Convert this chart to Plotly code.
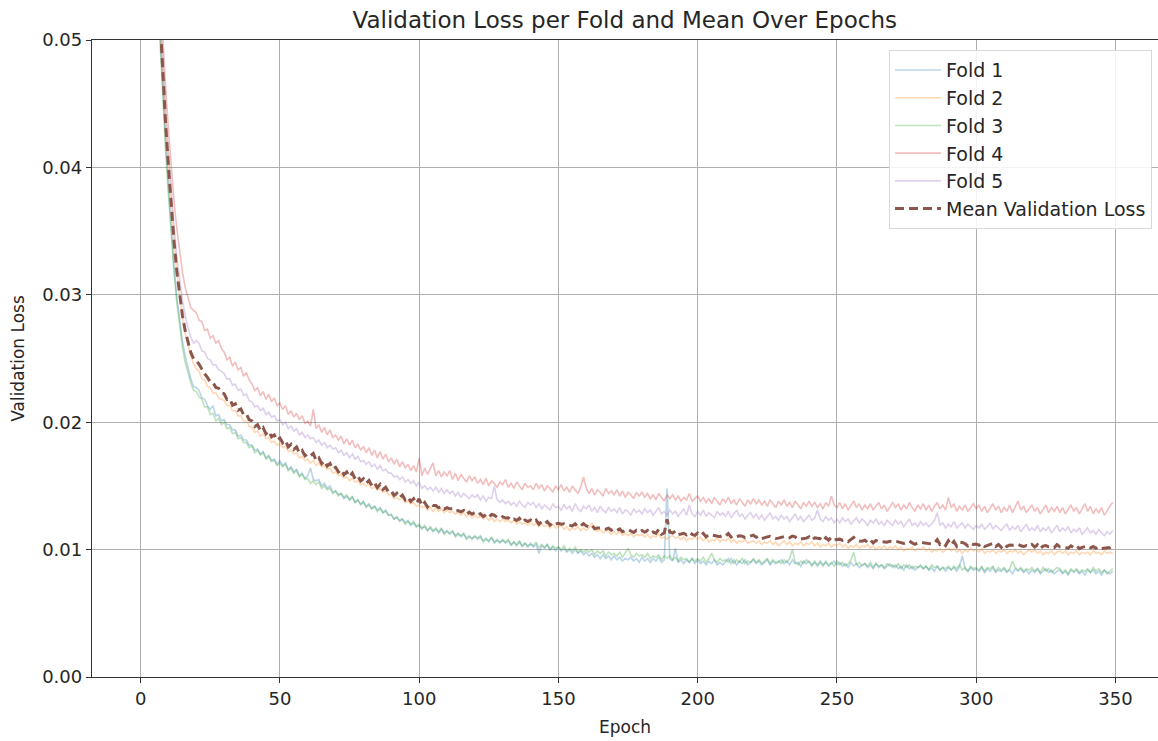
import plotly.graph_objects as go
import numpy as np

EPOCHS = list(range(350))

FOLD_1 = [
    0.3120, 0.1650, 0.1090, 0.0835, 0.0700, 0.0618, 0.0560, 0.0505, 0.0460, 0.0420,
    0.0385, 0.0352, 0.0322, 0.0298, 0.0279, 0.0264, 0.0252, 0.0242, 0.0234, 0.0228,
    0.0227, 0.0225, 0.0219, 0.0218, 0.0213, 0.0210, 0.0213, 0.0205, 0.0206, 0.0201,
    0.0202, 0.0198, 0.0198, 0.0194, 0.0194, 0.0189, 0.0190, 0.0186, 0.0186, 0.0182,
    0.0182, 0.0178, 0.0179, 0.0175, 0.0177, 0.0172, 0.0174, 0.0170, 0.0171, 0.0167,
    0.0170, 0.0166, 0.0168, 0.0163, 0.0165, 0.0161, 0.0163, 0.0158, 0.0160, 0.0156,
    0.0158, 0.0164, 0.0155, 0.0154, 0.0155, 0.0150, 0.0152, 0.0148, 0.0150, 0.0145,
    0.0146, 0.0143, 0.0144, 0.0140, 0.0142, 0.0139, 0.0141, 0.0137, 0.0139, 0.0135,
    0.0137, 0.0134, 0.0136, 0.0132, 0.0134, 0.0131, 0.0133, 0.0129, 0.0131, 0.0127,
    0.0127, 0.0124, 0.0126, 0.0122, 0.0124, 0.0121, 0.0123, 0.0119, 0.0121, 0.0118,
    0.0119, 0.0117, 0.0118, 0.0115, 0.0117, 0.0114, 0.0117, 0.0113, 0.0116, 0.0113,
    0.0115, 0.0112, 0.0114, 0.0111, 0.0113, 0.0110, 0.0112, 0.0109, 0.0111, 0.0108,
    0.0111, 0.0108, 0.0110, 0.0107, 0.0109, 0.0106, 0.0109, 0.0106, 0.0108, 0.0105,
    0.0108, 0.0105, 0.0107, 0.0104, 0.0106, 0.0103, 0.0106, 0.0103, 0.0105, 0.0102,
    0.0105, 0.0102, 0.0104, 0.0097, 0.0103, 0.0101, 0.0104, 0.0100, 0.0102, 0.0099,
    0.0102, 0.0099, 0.0101, 0.0098, 0.0100, 0.0097, 0.0100, 0.0097, 0.0099, 0.0096,
    0.0098, 0.0095, 0.0097, 0.0094, 0.0096, 0.0093, 0.0096, 0.0093, 0.0095, 0.0092,
    0.0095, 0.0092, 0.0094, 0.0091, 0.0093, 0.0092, 0.0094, 0.0091, 0.0093, 0.0090,
    0.0094, 0.0091, 0.0093, 0.0090, 0.0093, 0.0091, 0.0094, 0.0090, 0.0092, 0.0148,
    0.0093, 0.0091, 0.0101, 0.0090, 0.0092, 0.0089, 0.0092, 0.0090, 0.0093, 0.0089,
    0.0092, 0.0089, 0.0091, 0.0088, 0.0091, 0.0089, 0.0092, 0.0088, 0.0090, 0.0088,
    0.0091, 0.0093, 0.0089, 0.0092, 0.0088, 0.0091, 0.0089, 0.0092, 0.0088, 0.0090,
    0.0092, 0.0089, 0.0091, 0.0088, 0.0090, 0.0092, 0.0088, 0.0091, 0.0089, 0.0090,
    0.0092, 0.0089, 0.0091, 0.0088, 0.0092, 0.0089, 0.0090, 0.0087, 0.0091, 0.0089,
    0.0091, 0.0088, 0.0090, 0.0087, 0.0091, 0.0088, 0.0090, 0.0087, 0.0089, 0.0091,
    0.0088, 0.0090, 0.0087, 0.0089, 0.0086, 0.0090, 0.0087, 0.0089, 0.0086, 0.0088,
    0.0089, 0.0086, 0.0088, 0.0085, 0.0089, 0.0086, 0.0088, 0.0085, 0.0087, 0.0089,
    0.0086, 0.0088, 0.0085, 0.0087, 0.0084, 0.0088, 0.0085, 0.0087, 0.0084, 0.0086,
    0.0087, 0.0085, 0.0087, 0.0084, 0.0086, 0.0083, 0.0087, 0.0084, 0.0086, 0.0083,
    0.0086, 0.0084, 0.0086, 0.0083, 0.0087, 0.0095, 0.0085, 0.0083, 0.0086, 0.0084,
    0.0085, 0.0083, 0.0086, 0.0082, 0.0085, 0.0083, 0.0086, 0.0082, 0.0084, 0.0083,
    0.0085, 0.0082, 0.0084, 0.0081, 0.0085, 0.0083, 0.0085, 0.0082, 0.0084, 0.0081,
    0.0084, 0.0082, 0.0085, 0.0081, 0.0083, 0.0085, 0.0082, 0.0084, 0.0081, 0.0083,
    0.0084, 0.0081, 0.0083, 0.0080, 0.0084, 0.0082, 0.0084, 0.0081, 0.0083, 0.0080,
    0.0084, 0.0082, 0.0084, 0.0081, 0.0083, 0.0080, 0.0084, 0.0082, 0.0081, 0.0083,
]

FOLD_2 = [
    0.3050, 0.1620, 0.1080, 0.0830, 0.0702, 0.0622, 0.0566, 0.0512, 0.0468, 0.0432,
    0.0400, 0.0370, 0.0342, 0.0318, 0.0299, 0.0283, 0.0270, 0.0260, 0.0252, 0.0246,
    0.0242, 0.0240, 0.0234, 0.0233, 0.0228, 0.0227, 0.0223, 0.0223, 0.0219, 0.0218,
    0.0217, 0.0213, 0.0213, 0.0209, 0.0209, 0.0205, 0.0205, 0.0201, 0.0201, 0.0197,
    0.0196, 0.0192, 0.0193, 0.0189, 0.0191, 0.0187, 0.0188, 0.0184, 0.0185, 0.0182,
    0.0183, 0.0180, 0.0181, 0.0177, 0.0178, 0.0175, 0.0176, 0.0172, 0.0173, 0.0170,
    0.0171, 0.0168, 0.0170, 0.0166, 0.0168, 0.0165, 0.0166, 0.0163, 0.0164, 0.0160,
    0.0161, 0.0158, 0.0159, 0.0156, 0.0157, 0.0154, 0.0156, 0.0153, 0.0154, 0.0151,
    0.0152, 0.0150, 0.0151, 0.0148, 0.0149, 0.0147, 0.0148, 0.0145, 0.0146, 0.0143,
    0.0143, 0.0140, 0.0141, 0.0139, 0.0140, 0.0137, 0.0138, 0.0136, 0.0137, 0.0134,
    0.0135, 0.0133, 0.0134, 0.0131, 0.0133, 0.0130, 0.0133, 0.0130, 0.0132, 0.0129,
    0.0131, 0.0129, 0.0130, 0.0128, 0.0129, 0.0127, 0.0129, 0.0126, 0.0128, 0.0125,
    0.0127, 0.0125, 0.0126, 0.0124, 0.0126, 0.0123, 0.0125, 0.0122, 0.0124, 0.0122,
    0.0124, 0.0122, 0.0123, 0.0121, 0.0123, 0.0120, 0.0122, 0.0120, 0.0121, 0.0119,
    0.0122, 0.0119, 0.0121, 0.0118, 0.0120, 0.0118, 0.0119, 0.0117, 0.0120, 0.0117,
    0.0118, 0.0119, 0.0116, 0.0118, 0.0115, 0.0117, 0.0116, 0.0118, 0.0115, 0.0117,
    0.0115, 0.0117, 0.0121, 0.0116, 0.0114, 0.0116, 0.0113, 0.0115, 0.0114, 0.0112,
    0.0114, 0.0112, 0.0114, 0.0111, 0.0113, 0.0111, 0.0113, 0.0110, 0.0112, 0.0111,
    0.0112, 0.0110, 0.0112, 0.0109, 0.0111, 0.0110, 0.0112, 0.0109, 0.0110, 0.0108,
    0.0110, 0.0111, 0.0109, 0.0110, 0.0108, 0.0110, 0.0107, 0.0109, 0.0108, 0.0110,
    0.0108, 0.0110, 0.0107, 0.0109, 0.0106, 0.0108, 0.0107, 0.0109, 0.0106, 0.0108,
    0.0107, 0.0109, 0.0106, 0.0108, 0.0105, 0.0107, 0.0106, 0.0108, 0.0105, 0.0106,
    0.0107, 0.0105, 0.0107, 0.0104, 0.0106, 0.0105, 0.0107, 0.0104, 0.0106, 0.0103,
    0.0105, 0.0107, 0.0104, 0.0106, 0.0103, 0.0105, 0.0104, 0.0106, 0.0103, 0.0105,
    0.0104, 0.0106, 0.0103, 0.0105, 0.0102, 0.0104, 0.0103, 0.0105, 0.0102, 0.0104,
    0.0103, 0.0105, 0.0102, 0.0104, 0.0101, 0.0103, 0.0102, 0.0104, 0.0101, 0.0103,
    0.0102, 0.0104, 0.0101, 0.0103, 0.0100, 0.0102, 0.0101, 0.0103, 0.0100, 0.0102,
    0.0101, 0.0103, 0.0100, 0.0102, 0.0099, 0.0101, 0.0100, 0.0102, 0.0099, 0.0101,
    0.0100, 0.0102, 0.0099, 0.0101, 0.0098, 0.0100, 0.0099, 0.0101, 0.0098, 0.0100,
    0.0101, 0.0099, 0.0101, 0.0098, 0.0100, 0.0097, 0.0100, 0.0098, 0.0101, 0.0099,
    0.0100, 0.0098, 0.0101, 0.0097, 0.0099, 0.0098, 0.0100, 0.0097, 0.0099, 0.0098,
    0.0100, 0.0097, 0.0099, 0.0098, 0.0100, 0.0097, 0.0099, 0.0096, 0.0098, 0.0100,
    0.0098, 0.0100, 0.0097, 0.0099, 0.0096, 0.0098, 0.0097, 0.0099, 0.0096, 0.0098,
    0.0099, 0.0097, 0.0099, 0.0096, 0.0098, 0.0097, 0.0099, 0.0096, 0.0098, 0.0097,
    0.0098, 0.0096, 0.0099, 0.0097, 0.0098, 0.0096, 0.0099, 0.0097, 0.0098, 0.0097,
]

FOLD_3 = [
    0.3180, 0.1680, 0.1100, 0.0838, 0.0698, 0.0612, 0.0552, 0.0498, 0.0452, 0.0412,
    0.0378, 0.0346, 0.0318, 0.0294, 0.0274, 0.0259, 0.0247, 0.0238, 0.0231, 0.0225,
    0.0224, 0.0220, 0.0218, 0.0212, 0.0212, 0.0206, 0.0207, 0.0201, 0.0203, 0.0198,
    0.0200, 0.0195, 0.0196, 0.0191, 0.0192, 0.0187, 0.0188, 0.0184, 0.0184, 0.0180,
    0.0181, 0.0176, 0.0178, 0.0174, 0.0176, 0.0171, 0.0173, 0.0169, 0.0170, 0.0166,
    0.0168, 0.0165, 0.0167, 0.0162, 0.0164, 0.0160, 0.0162, 0.0157, 0.0159, 0.0155,
    0.0156, 0.0152, 0.0154, 0.0151, 0.0153, 0.0148, 0.0150, 0.0147, 0.0148, 0.0144,
    0.0146, 0.0142, 0.0144, 0.0141, 0.0143, 0.0139, 0.0142, 0.0137, 0.0139, 0.0136,
    0.0138, 0.0133, 0.0135, 0.0132, 0.0134, 0.0130, 0.0132, 0.0129, 0.0130, 0.0127,
    0.0128, 0.0124, 0.0125, 0.0123, 0.0124, 0.0120, 0.0122, 0.0120, 0.0122, 0.0118,
    0.0120, 0.0116, 0.0119, 0.0115, 0.0118, 0.0115, 0.0116, 0.0114, 0.0117, 0.0112,
    0.0114, 0.0113, 0.0115, 0.0110, 0.0112, 0.0111, 0.0113, 0.0108, 0.0110, 0.0109,
    0.0110, 0.0109, 0.0111, 0.0106, 0.0108, 0.0107, 0.0110, 0.0105, 0.0107, 0.0106,
    0.0107, 0.0106, 0.0108, 0.0103, 0.0106, 0.0104, 0.0107, 0.0102, 0.0105, 0.0103,
    0.0104, 0.0103, 0.0106, 0.0101, 0.0104, 0.0102, 0.0104, 0.0100, 0.0103, 0.0101,
    0.0102, 0.0100, 0.0103, 0.0099, 0.0101, 0.0099, 0.0102, 0.0098, 0.0100, 0.0098,
    0.0100, 0.0098, 0.0100, 0.0096, 0.0099, 0.0097, 0.0099, 0.0095, 0.0098, 0.0096,
    0.0097, 0.0095, 0.0098, 0.0094, 0.0097, 0.0101, 0.0096, 0.0094, 0.0097, 0.0095,
    0.0096, 0.0094, 0.0097, 0.0093, 0.0095, 0.0094, 0.0096, 0.0092, 0.0095, 0.0093,
    0.0095, 0.0092, 0.0094, 0.0091, 0.0094, 0.0092, 0.0093, 0.0090, 0.0093, 0.0091,
    0.0093, 0.0091, 0.0094, 0.0090, 0.0093, 0.0097, 0.0092, 0.0090, 0.0093, 0.0091,
    0.0092, 0.0090, 0.0093, 0.0089, 0.0092, 0.0090, 0.0093, 0.0089, 0.0091, 0.0090,
    0.0093, 0.0090, 0.0092, 0.0089, 0.0091, 0.0093, 0.0089, 0.0092, 0.0090, 0.0091,
    0.0089, 0.0092, 0.0090, 0.0093, 0.0100, 0.0090, 0.0088, 0.0091, 0.0089, 0.0092,
    0.0090, 0.0087, 0.0091, 0.0088, 0.0090, 0.0087, 0.0091, 0.0088, 0.0090, 0.0087,
    0.0091, 0.0088, 0.0090, 0.0087, 0.0089, 0.0092, 0.0098, 0.0088, 0.0090, 0.0087,
    0.0089, 0.0087, 0.0090, 0.0086, 0.0089, 0.0087, 0.0088, 0.0086, 0.0089, 0.0087,
    0.0088, 0.0086, 0.0089, 0.0085, 0.0088, 0.0086, 0.0088, 0.0085, 0.0087, 0.0086,
    0.0088, 0.0085, 0.0087, 0.0084, 0.0088, 0.0086, 0.0087, 0.0084, 0.0086, 0.0085,
    0.0087, 0.0084, 0.0087, 0.0085, 0.0088, 0.0084, 0.0086, 0.0083, 0.0087, 0.0085,
    0.0086, 0.0084, 0.0087, 0.0083, 0.0086, 0.0085, 0.0087, 0.0083, 0.0086, 0.0084,
    0.0086, 0.0083, 0.0085, 0.0091, 0.0086, 0.0084, 0.0086, 0.0083, 0.0085, 0.0084,
    0.0086, 0.0083, 0.0085, 0.0082, 0.0086, 0.0083, 0.0085, 0.0082, 0.0084, 0.0086,
    0.0085, 0.0082, 0.0084, 0.0081, 0.0085, 0.0083, 0.0085, 0.0082, 0.0084, 0.0083,
    0.0085, 0.0082, 0.0086, 0.0083, 0.0085, 0.0082, 0.0084, 0.0081, 0.0083, 0.0085,
]

FOLD_4 = [
    0.2980, 0.1600, 0.1090, 0.0850, 0.0725, 0.0648, 0.0592, 0.0540, 0.0498, 0.0462,
    0.0430, 0.0400, 0.0373, 0.0352, 0.0334, 0.0318, 0.0306, 0.0297, 0.0290, 0.0288,
    0.0286, 0.0280, 0.0279, 0.0272, 0.0273, 0.0266, 0.0268, 0.0262, 0.0264, 0.0258,
    0.0255, 0.0249, 0.0251, 0.0244, 0.0247, 0.0241, 0.0243, 0.0236, 0.0239, 0.0233,
    0.0230, 0.0225, 0.0227, 0.0221, 0.0224, 0.0218, 0.0222, 0.0216, 0.0219, 0.0213,
    0.0215, 0.0210, 0.0213, 0.0206, 0.0209, 0.0204, 0.0207, 0.0202, 0.0205, 0.0199,
    0.0201, 0.0197, 0.0210, 0.0195, 0.0198, 0.0192, 0.0196, 0.0190, 0.0194, 0.0188,
    0.0190, 0.0186, 0.0189, 0.0183, 0.0187, 0.0182, 0.0186, 0.0180, 0.0183, 0.0178,
    0.0181, 0.0176, 0.0180, 0.0174, 0.0178, 0.0172, 0.0177, 0.0171, 0.0175, 0.0169,
    0.0172, 0.0167, 0.0171, 0.0165, 0.0169, 0.0164, 0.0167, 0.0162, 0.0166, 0.0161,
    0.0172, 0.0158, 0.0164, 0.0159, 0.0163, 0.0168, 0.0158, 0.0162, 0.0157, 0.0161,
    0.0158, 0.0162, 0.0155, 0.0160, 0.0154, 0.0159, 0.0156, 0.0153, 0.0158, 0.0154,
    0.0157, 0.0152, 0.0155, 0.0151, 0.0156, 0.0150, 0.0154, 0.0152, 0.0149, 0.0153,
    0.0151, 0.0155, 0.0149, 0.0152, 0.0148, 0.0153, 0.0150, 0.0147, 0.0152, 0.0149,
    0.0150, 0.0147, 0.0152, 0.0148, 0.0151, 0.0146, 0.0150, 0.0148, 0.0145, 0.0150,
    0.0147, 0.0151, 0.0146, 0.0149, 0.0145, 0.0150, 0.0147, 0.0144, 0.0149, 0.0157,
    0.0148, 0.0144, 0.0148, 0.0143, 0.0147, 0.0145, 0.0142, 0.0148, 0.0144, 0.0146,
    0.0143, 0.0147, 0.0142, 0.0146, 0.0141, 0.0145, 0.0143, 0.0140, 0.0145, 0.0142,
    0.0145, 0.0141, 0.0144, 0.0140, 0.0143, 0.0139, 0.0144, 0.0141, 0.0138, 0.0143,
    0.0140, 0.0143, 0.0139, 0.0142, 0.0138, 0.0141, 0.0139, 0.0144, 0.0138, 0.0140,
    0.0142, 0.0138, 0.0141, 0.0137, 0.0140, 0.0136, 0.0141, 0.0138, 0.0135, 0.0140,
    0.0137, 0.0141, 0.0136, 0.0139, 0.0135, 0.0140, 0.0137, 0.0134, 0.0139, 0.0136,
    0.0140, 0.0136, 0.0139, 0.0135, 0.0138, 0.0134, 0.0139, 0.0136, 0.0133, 0.0138,
    0.0135, 0.0139, 0.0134, 0.0137, 0.0133, 0.0138, 0.0135, 0.0132, 0.0137, 0.0134,
    0.0138, 0.0134, 0.0137, 0.0133, 0.0136, 0.0132, 0.0137, 0.0134, 0.0142, 0.0135,
    0.0133, 0.0137, 0.0132, 0.0136, 0.0131, 0.0135, 0.0138, 0.0133, 0.0136, 0.0131,
    0.0135, 0.0132, 0.0136, 0.0131, 0.0134, 0.0137, 0.0132, 0.0135, 0.0130, 0.0134,
    0.0137, 0.0133, 0.0136, 0.0131, 0.0135, 0.0132, 0.0137, 0.0133, 0.0130, 0.0135,
    0.0132, 0.0136, 0.0131, 0.0135, 0.0130, 0.0134, 0.0137, 0.0132, 0.0135, 0.0131,
    0.0141, 0.0133, 0.0136, 0.0130, 0.0134, 0.0131, 0.0135, 0.0130, 0.0133, 0.0136,
    0.0132, 0.0135, 0.0130, 0.0134, 0.0129, 0.0133, 0.0136, 0.0131, 0.0134, 0.0129,
    0.0133, 0.0130, 0.0135, 0.0129, 0.0133, 0.0138, 0.0131, 0.0134, 0.0129, 0.0132,
    0.0135, 0.0130, 0.0133, 0.0128, 0.0132, 0.0135, 0.0129, 0.0133, 0.0130, 0.0134,
    0.0129, 0.0133, 0.0128, 0.0131, 0.0135, 0.0130, 0.0133, 0.0128, 0.0132, 0.0136,
    0.0130, 0.0134, 0.0128, 0.0132, 0.0129, 0.0133, 0.0127, 0.0131, 0.0134, 0.0137,
]

FOLD_5 = [
    0.3010, 0.1610, 0.1085, 0.0840, 0.0712, 0.0632, 0.0577, 0.0524, 0.0480, 0.0443,
    0.0411, 0.0381, 0.0354, 0.0330, 0.0311, 0.0296, 0.0284, 0.0274, 0.0267, 0.0262,
    0.0264, 0.0262, 0.0256, 0.0255, 0.0250, 0.0249, 0.0245, 0.0245, 0.0241, 0.0240,
    0.0238, 0.0234, 0.0234, 0.0229, 0.0230, 0.0225, 0.0226, 0.0221, 0.0222, 0.0217,
    0.0216, 0.0212, 0.0213, 0.0209, 0.0211, 0.0206, 0.0208, 0.0204, 0.0205, 0.0201,
    0.0202, 0.0198, 0.0200, 0.0195, 0.0197, 0.0193, 0.0195, 0.0190, 0.0192, 0.0188,
    0.0190, 0.0187, 0.0188, 0.0184, 0.0186, 0.0182, 0.0184, 0.0180, 0.0182, 0.0179,
    0.0180, 0.0176, 0.0178, 0.0174, 0.0176, 0.0172, 0.0175, 0.0171, 0.0173, 0.0169,
    0.0170, 0.0167, 0.0169, 0.0165, 0.0167, 0.0163, 0.0166, 0.0162, 0.0163, 0.0160,
    0.0160, 0.0157, 0.0158, 0.0155, 0.0157, 0.0153, 0.0155, 0.0152, 0.0154, 0.0150,
    0.0153, 0.0148, 0.0150, 0.0147, 0.0149, 0.0146, 0.0149, 0.0145, 0.0148, 0.0144,
    0.0147, 0.0144, 0.0146, 0.0142, 0.0145, 0.0141, 0.0144, 0.0142, 0.0140, 0.0143,
    0.0141, 0.0143, 0.0139, 0.0142, 0.0138, 0.0141, 0.0140, 0.0150, 0.0139, 0.0137,
    0.0139, 0.0136, 0.0138, 0.0135, 0.0137, 0.0134, 0.0138, 0.0135, 0.0133, 0.0137,
    0.0135, 0.0137, 0.0133, 0.0136, 0.0132, 0.0135, 0.0133, 0.0131, 0.0136, 0.0133,
    0.0134, 0.0131, 0.0135, 0.0132, 0.0134, 0.0130, 0.0136, 0.0132, 0.0130, 0.0134,
    0.0132, 0.0135, 0.0130, 0.0133, 0.0129, 0.0134, 0.0131, 0.0129, 0.0133, 0.0130,
    0.0132, 0.0129, 0.0133, 0.0128, 0.0131, 0.0130, 0.0127, 0.0132, 0.0129, 0.0131,
    0.0128, 0.0132, 0.0129, 0.0131, 0.0127, 0.0130, 0.0133, 0.0128, 0.0130, 0.0127,
    0.0131, 0.0128, 0.0130, 0.0126, 0.0129, 0.0132, 0.0127, 0.0135, 0.0128, 0.0126,
    0.0130, 0.0127, 0.0131, 0.0126, 0.0129, 0.0127, 0.0125, 0.0130, 0.0127, 0.0129,
    0.0126, 0.0130, 0.0125, 0.0128, 0.0131, 0.0126, 0.0128, 0.0124, 0.0127, 0.0129,
    0.0125, 0.0128, 0.0124, 0.0127, 0.0123, 0.0126, 0.0129, 0.0124, 0.0126, 0.0123,
    0.0127, 0.0124, 0.0126, 0.0122, 0.0125, 0.0128, 0.0123, 0.0126, 0.0122, 0.0125,
    0.0127, 0.0123, 0.0125, 0.0131, 0.0124, 0.0122, 0.0126, 0.0123, 0.0125, 0.0121,
    0.0124, 0.0121, 0.0125, 0.0122, 0.0124, 0.0120, 0.0123, 0.0125, 0.0121, 0.0124,
    0.0122, 0.0119, 0.0123, 0.0121, 0.0124, 0.0120, 0.0122, 0.0119, 0.0123, 0.0121,
    0.0119, 0.0123, 0.0120, 0.0122, 0.0118, 0.0121, 0.0124, 0.0119, 0.0121, 0.0118,
    0.0122, 0.0119, 0.0121, 0.0118, 0.0120, 0.0123, 0.0129, 0.0119, 0.0121, 0.0117,
    0.0120, 0.0118, 0.0122, 0.0117, 0.0119, 0.0121, 0.0117, 0.0120, 0.0118, 0.0116,
    0.0119, 0.0117, 0.0120, 0.0116, 0.0118, 0.0121, 0.0116, 0.0119, 0.0117, 0.0115,
    0.0118, 0.0120, 0.0115, 0.0118, 0.0116, 0.0119, 0.0114, 0.0117, 0.0120, 0.0115,
    0.0117, 0.0115, 0.0119, 0.0114, 0.0117, 0.0115, 0.0118, 0.0113, 0.0116, 0.0119,
    0.0114, 0.0117, 0.0115, 0.0118, 0.0113, 0.0116, 0.0114, 0.0117, 0.0112, 0.0115,
    0.0117, 0.0113, 0.0115, 0.0112, 0.0116, 0.0113, 0.0111, 0.0114, 0.0112, 0.0115,
]

FOLD_NAMES = ["Fold 1", "Fold 2", "Fold 3", "Fold 4", "Fold 5"]
FOLD_COLORS = ["#1f77b4", "#ff7f0e", "#2ca02c", "#d62728", "#9467bd"]
MEAN_NAME = "Mean Validation Loss"
MEAN_COLOR = "#8c564b"

X_TICKS = [0, 50, 100, 150, 200, 250, 300, 350]
Y_TICKS = [0.00, 0.01, 0.02, 0.03, 0.04, 0.05]

folds = [FOLD_1, FOLD_2, FOLD_3, FOLD_4, FOLD_5]
mean_loss = np.mean(np.array(folds), axis=0)

FONT = "DejaVu Sans"
TXT = "#262626"

fig = go.Figure()
for name, color, vals in zip(FOLD_NAMES, FOLD_COLORS, folds):
    fig.add_trace(go.Scatter(
        x=EPOCHS, y=vals, mode="lines", name=name,
        line=dict(color=color, width=1.6), opacity=0.3,
    ))
fig.add_trace(go.Scatter(
    x=EPOCHS, y=mean_loss, mode="lines", name=MEAN_NAME,
    line=dict(color=MEAN_COLOR, width=3, dash="9px,5px"),
))

fig.update_layout(
    width=1158, height=741,
    margin=dict(l=92, r=0, t=40, b=64),
    paper_bgcolor="white", plot_bgcolor="white",
    font=dict(family=FONT, size=18, color=TXT),
    title=dict(text="Validation Loss per Fold and Mean Over Epochs",
               x=0.5395, xanchor="center", y=0.973, yanchor="middle",
               font=dict(family=FONT, size=23, color=TXT)),
    showlegend=True,
    legend=dict(x=0.9944, xanchor="right", y=0.984, yanchor="top",
                bgcolor="rgba(255,255,255,0.85)", bordercolor="#d9d9d9",
                borderwidth=1, font=dict(family=FONT, size=19, color=TXT),
                itemwidth=46, tracegroupgap=0),
)
fig.update_xaxes(
    range=[-17.45, 365.26], tickvals=X_TICKS,
    ticktext=[str(v) for v in X_TICKS],
    showgrid=True, gridcolor="#b0b0b0", gridwidth=1,
    zeroline=False, showline=True, linecolor="#333333", linewidth=1.3, mirror=True,
    ticks="outside", ticklen=5, tickcolor="#333333", tickwidth=1.2,
    tickfont=dict(family=FONT, size=18, color=TXT),
    title=dict(text="Epoch", font=dict(family=FONT, size=17, color=TXT), standoff=13),
)
fig.update_yaxes(
    range=[0, 0.05], tickvals=Y_TICKS,
    ticktext=["%.2f" % v for v in Y_TICKS],
    showgrid=True, gridcolor="#b0b0b0", gridwidth=1,
    zeroline=False, showline=True, linecolor="#333333", linewidth=1.3, mirror=False,
    ticks="outside", ticklen=5, tickcolor="#333333", tickwidth=1.2,
    tickfont=dict(family=FONT, size=18, color=TXT),
    title=dict(text="Validation Loss", font=dict(family=FONT, size=17, color=TXT), standoff=13),
)

fig.write_html("out.html")
